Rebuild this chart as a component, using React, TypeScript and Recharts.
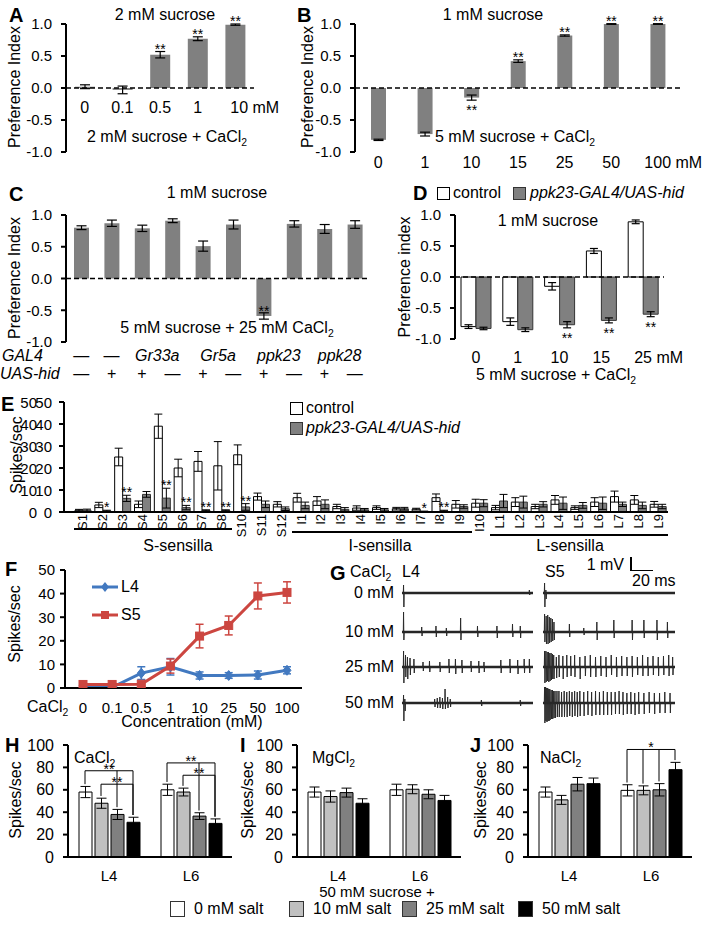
import React from "react";
import { BarChart, Bar, LineChart, Line, XAxis, YAxis, ReferenceLine, ErrorBar, LabelList } from "recharts";

const FONT = '"Liberation Sans", Arial, Helvetica, sans-serif';
const GRAY = "#808080";
const BLUE = "#4279c0";
const RED = "#cc4640";

// A: 2 mM sucrose vs 2 mM sucrose + CaCl2
const aConc = ["0", "0.1", "0.5", "1", "10"];
const aPI = [0.02, -0.03, 0.52, 0.77, 0.99];
const aErr = [0.03, 0.06, 0.05, 0.03, 0.01];
const aSig = ["", "", "**", "**", "**"];

// B: 1 mM sucrose vs 5 mM sucrose + CaCl2
const bConc = ["0", "1", "10", "15", "25", "50", "100"];
const bPI = [-0.81, -0.72, -0.15, 0.42, 0.82, 1.0, 1.0];
const bErr = [0.01, 0.03, 0.04, 0.02, 0.01, 0.005, 0.005];
const bSig = ["", "", "**", "**", "**", "**", "**"];

// C: genotypes
const cGal4 = ["—", "—", "Gr33a", "", "Gr5a", "", "ppk23", "", "ppk28", ""];
const cUas = ["—", "+", "+", "—", "+", "—", "+", "—", "+", "—"];
const cPI = [0.8, 0.87, 0.79, 0.91, 0.51, 0.85, -0.59, 0.86, 0.78, 0.85];
const cErr = [0.03, 0.05, 0.05, 0.03, 0.08, 0.07, 0.05, 0.05, 0.07, 0.06];
const cSig = ["", "", "", "", "", "", "**", "", "", ""];

// D: control vs ppk23-GAL4/UAS-hid
const dConc = ["0", "1", "10", "15", "25"];
const dControl = [-0.8, -0.72, -0.15, 0.42, 0.89];
const dControlErr = [0.03, 0.06, 0.06, 0.04, 0.03];
const dHid = [-0.83, -0.85, -0.77, -0.7, -0.6];
const dHidErr = [0.02, 0.03, 0.05, 0.04, 0.04];
const dSig = ["", "", "**", "**", "**"];

// E: spikes per sensillum
const eSensilla = [
  "S1", "S2", "S3", "S4", "S5", "S6", "S7", "S8", "S10", "S11", "S12",
  "I1", "I2", "I3", "I4", "I5", "I6", "I7", "I8", "I9", "I10",
  "L1", "L2", "L3", "L4", "L5", "L6", "L7", "L8", "L9",
];
const eControl = [0.8, 3.2, 25, 3.5, 39, 20, 23, 21, 26, 7, 3.5, 6.5, 5, 2.5, 1.8, 2, 1.5, 1.3, 6.5, 3.5, 4, 2, 4.5, 2.5, 5.5, 2, 4.5, 7, 5.5, 3.5];
const eControlErr = [0.4, 1.2, 4, 1.5, 5.5, 4, 4.5, 11, 4.5, 1.6, 1.2, 2, 2, 1, 1, 0.8, 0.6, 0.4, 1.7, 1.7, 1.8, 1, 2, 1, 2, 0.8, 2, 2.5, 2, 1.3];
const eHid = [0.8, 0.5, 6.2, 8, 6.3, 2, 0.7, 0.7, 2.3, 3.5, 1.5, 3, 3.5, 1.2, 1, 1, 1.5, 0.2, 0.5, 2.5, 4, 5, 4.5, 3.5, 4, 3, 4, 3.5, 3, 2.5];
const eHidErr = [0.5, 0.3, 1.4, 1.3, 4.5, 1, 0.3, 0.3, 1.5, 1.5, 0.8, 1.5, 2, 0.8, 0.6, 0.6, 0.6, 0.2, 0.3, 0.8, 1.6, 3, 2.7, 1.2, 2.8, 1.3, 2.8, 1, 1.5, 1];
const eSig = ["", "*", "**", "", "**", "**", "**", "**", "**", "", "", "", "", "", "", "", "", "*", "**", "", "", "", "", "", "", "", "", "", "", ""];

// F: dose response
const fConc = ["0", "0.1", "0.5", "1", "10", "25", "50", "100"];
const fL4 = [1.2, 0.3, 6.3, 9.0, 5.3, 5.3, 5.5, 7.5];
const fL4Err = [0.4, 0.3, 2.7, 3.5, 1.5, 1.2, 1.7, 1.5];
const fS5 = [1.5, 1.5, 1.6, 9.3, 22, 26.5, 39, 40.5];
const fS5Err = [0.5, 0.5, 0.6, 3, 5, 4, 5.5, 4.5];

// G: spike traces, [position %, up, down]
type Spike = [number, number, number];
const g0L4: Spike[] = [[0, 8, 14], [97, 3, 2]];
const g0S5: Spike[] = [[0, 10, 14], [1, 3, 6]];
const g10L4: Spike[] = [[0, 20, 8], [14, 5, 4], [25, 6, 5], [33, 4, 4], [44, 14, 8], [57, 6, 5], [72, 6, 6], [84, 8, 5], [90, 6, 6]];
const g10S5: Spike[] = [[0, 18, 10], [1.2, 16, 12], [2.4, 17, 12], [3.6, 15, 11], [4.8, 14, 10], [6, 13, 9], [7.2, 10, 8], [19, 8, 5], [30, 4, 3], [40, 10, 8], [53, 12, 6], [67, 12, 8], [76, 12, 6], [86, 12, 8], [94, 10, 6]];
const g25L4: Spike[] = [[0, 16, 16], [1.5, 12, 10], [3, 10, 12], [5, 9, 8], [8, 8, 6], [15, 5, 4], [20, 6, 5], [28, 5, 5], [35, 8, 6], [40, 8, 7], [45, 7, 6], [52, 6, 5], [58, 6, 6], [62, 5, 5], [75, 7, 6], [82, 8, 6], [88, 7, 7], [93, 8, 6], [97, 8, 6]];
const g25S5: Spike[] = [[0, 16, 16], [1, 16, 15], [2, 15, 14], [3, 15, 15], [4, 14, 14], [5, 14, 13], [6, 13, 12], [7, 12, 12], [9, 10, 11], [11, 12, 10], [14, 11, 12], [17, 12, 10], [20, 11, 9], [23, 12, 10], [27, 10, 12], [31, 11, 9], [35, 12, 10], [39, 10, 10], [43, 11, 9], [47, 10, 10], [51, 12, 8], [55, 10, 10], [59, 11, 9], [63, 10, 9], [67, 11, 10], [71, 10, 8], [75, 12, 9], [79, 10, 9], [83, 11, 8], [87, 10, 9], [91, 11, 8], [95, 12, 9], [98, 10, 8]];
const g50L4: Spike[] = [[0, 8, 18], [1, 4, 8], [24, 4, 4], [26, 5, 5], [28, 6, 5], [30, 5, 6], [32, 14, 6], [34, 6, 5], [36, 4, 4], [60, 3, 3], [90, 3, 3]];
const g50S5: Spike[] = [[0, 16, 20], [0.8, 16, 18], [1.6, 15, 19], [2.4, 15, 18], [3.2, 14, 18], [4, 14, 17], [5, 13, 16], [6, 13, 16], [7, 12, 15], [8, 12, 15], [9.5, 12, 14], [11, 12, 14], [13, 11, 14], [15, 12, 14], [17, 11, 14], [19, 12, 13], [21, 11, 14], [23, 12, 13], [25, 11, 14], [27, 12, 13], [30, 11, 13], [33, 12, 12], [36, 11, 13], [39, 12, 12], [42, 11, 12], [45, 12, 12], [48, 11, 12], [51, 11, 12], [54, 11, 11], [57, 12, 11], [60, 11, 12], [63, 10, 11], [66, 11, 11], [69, 10, 12], [72, 11, 11], [76, 10, 11], [80, 11, 10], [84, 10, 11], [88, 10, 10], [92, 11, 10], [96, 10, 10]];
const gRows = ["0 mM", "10 mM", "25 mM", "50 mM"];

// H, I, J: salts
const saltLabels = ["0 mM salt", "10 mM salt", "25 mM salt", "50 mM salt"];
const caL4 = [58, 48, 38, 31];
const caL4Err = [5, 4.5, 4.5, 4.5];
const caL6 = [60, 58, 36.5, 30];
const caL6Err = [5, 3.5, 3, 4];
const mgL4 = [58, 54, 57.5, 48];
const mgL4Err = [4.5, 5, 4, 4];
const mgL6 = [60, 60.5, 56, 50.5];
const mgL6Err = [5, 4, 4, 4.5];
const naL4 = [58, 51, 65, 65.5];
const naL4Err = [4.5, 4, 6, 5];
const naL6 = [59.5, 59.5, 60, 78];
const naL6Err = [5, 4, 5.5, 6.5];

type Bracket = { g: number; from: number; to: number; level: number; drops: number[]; label: string };
const caBrackets: Bracket[] = [
  { g: 0, from: 0, to: 3, level: 77, drops: [0, 2, 3], label: "**" },
  { g: 0, from: 1, to: 3, level: 65, drops: [1, 3], label: "**" },
  { g: 1, from: 0, to: 3, level: 84, drops: [0, 2, 3], label: "**" },
  { g: 1, from: 1, to: 3, level: 73, drops: [1, 3], label: "**" },
];
const naBrackets: Bracket[] = [{ g: 1, from: 0, to: 3, level: 96, drops: [0, 1, 2, 3], label: "*" }];

const SALT_FILL = ["#ffffff", "#c0c0c0", "#808080", "#000000"];
const SALT_BAR = 13;
const SALT_GAP = 3;

// rows
const aRows = aConc.map((c, i) => ({ c, v: aPI[i], e: aErr[i], sig: aSig[i] }));
const bRows = bConc.map((c, i) => ({ c, v: bPI[i], e: bErr[i], sig: bSig[i] }));
const cRows = cPI.map((v, i) => ({ k: i, v, e: cErr[i], sig: cSig[i] }));
const dRows = dConc.map((c, i) => ({ c, ctl: dControl[i], ctlE: dControlErr[i], hid: dHid[i], hidE: dHidErr[i], sig: dSig[i] }));
const eRows = eSensilla.map((s, i) => ({ s, c: eControl[i], ce: eControlErr[i], h: eHid[i], he: eHidErr[i], sig: eSig[i] }));
const fRows = fConc.map((c, i) => ({ c, l4: fL4[i], l4e: fL4Err[i], s5: fS5[i], s5e: fS5Err[i] }));
const saltRows = (l4: number[], l4e: number[], l6: number[], l6e: number[]) =>
  [["L4", l4, l4e], ["L6", l6, l6e]].map(([s, v, e]: any) => ({
    s, v0: v[0], v1: v[1], v2: v[2], v3: v[3], e0: e[0], e1: e[1], e2: e[2], e3: e[3],
  }));

function T({ x, y, size = 16, anchor = "start", italic, bold, children }: any) {
  const tx = anchor === "start" ? "0" : anchor === "middle" ? "-50%" : "-100%";
  return (
    <div style={{ position: "absolute", left: x, top: y, transform: `translate(${tx}, -50%)`, fontSize: size, lineHeight: 1, whiteSpace: "nowrap", fontStyle: italic ? "italic" : "normal", fontWeight: bold ? 700 : 400 }}>
      {children}
    </div>
  );
}

function VT({ x, y, size = 16, children }: any) {
  return (
    <div style={{ position: "absolute", left: x, top: y, transform: "translate(-50%, -50%) rotate(-90deg)", fontSize: size, lineHeight: 1, whiteSpace: "nowrap" }}>
      {children}
    </div>
  );
}

const Sub = ({ children }: any) => <sub style={{ fontSize: "0.65em", lineHeight: 0 }}>{children}</sub>;

function catTick(dy: number, size: number, unitIdx = -1, shift = 0) {
  return (p: any) => {
    const label = String(p.payload.value);
    const y = p.y + dy;
    if (p.index !== unitIdx)
      return <text x={p.x} y={y} textAnchor="middle" dominantBaseline="central" fontSize={size} fill="#000">{label}</text>;
    const half = label.length * size * 0.278;
    return <text x={p.x - half + shift} y={y} textAnchor="start" dominantBaseline="central" fontSize={size} fill="#000">{label} mM</text>;
  };
}

function sigContent(rows: any[], valKey: string, errKey: string, ppu: number, mode: "out" | "in", size = 14) {
  return (p: any) => {
    const s = p.value;
    if (!s) return null;
    const vb = p.viewBox && p.viewBox.width !== undefined ? p.viewBox : p;
    const r = rows[p.index];
    const v = r[valKey];
    const e = r[errKey];
    const yA = vb.y;
    const yB = vb.y + vb.height;
    const cx = vb.x + vb.width / 2;
    let y;
    if (mode === "in") y = Math.max(yA, yB);
    else if (v >= 0) y = Math.min(yA, yB) - e * ppu + 2;
    else y = Math.max(yA, yB) + e * ppu + 15;
    return <text key={`sig-${p.index}`} x={cx} y={y} textAnchor="middle" fontSize={size} fill="#000">{s}</text>;
  };
}

const axisLine = { stroke: "#000", strokeWidth: 2 };
const piY = {
  domain: [-1, 1] as [number, number],
  ticks: [-1, -0.5, 0, 0.5, 1],
  tickFormatter: (v: number) => v.toFixed(1),
  width: 50,
  allowDataOverflow: true,
  interval: 0 as const,
  axisLine,
  tickLine: axisLine,
  tickSize: 5,
  tickMargin: 9,
  tick: { fontSize: 15, fill: "#000" },
};

function Trace({ x, y, w, spikes }: { x: number; y: number; w: number; spikes: Spike[] }) {
  const rows = [{ t: -1, v: 0 }];
  spikes.forEach(([p, up, down]) => {
    rows.push({ t: p, v: 0 }, { t: p + 0.2, v: up }, { t: p + 0.45, v: -down }, { t: p + 0.7, v: 0 });
  });
  rows.push({ t: 100, v: 0 });
  return (
    <div style={{ position: "absolute", left: x, top: y - 22 }}>
      <LineChart width={w} height={44} data={rows} margin={{ top: 0, right: 0, bottom: 0, left: 0 }}>
        <XAxis type="number" dataKey="t" domain={[-1, 100]} hide />
        <YAxis type="number" domain={[-22, 22]} hide allowDataOverflow />
        <ReferenceLine y={0} stroke="#222" strokeWidth={2.6} />
        <Line type="linear" dataKey="v" stroke="#2a2a2a" strokeWidth={1} dot={false} isAnimationActive={false} />
      </LineChart>
    </div>
  );
}

function SaltPanel({ plotLeft, rows, brackets }: { plotLeft: number; rows: any[]; brackets: Bracket[] }) {
  const W = 164;
  const H = 112;
  const yw = 46;
  const band = W / rows.length;
  const bx = (g: number, b: number) => yw + band * (g + 0.5) + (b - 1.5) * (SALT_BAR + SALT_GAP);
  const by = (v: number) => 8 + H * (1 - v / 100);
  return (
    <div style={{ position: "absolute", left: plotLeft - yw, top: 737 }}>
      <BarChart width={yw + W + 4} height={8 + H + 30} data={rows} margin={{ top: 8, right: 4, bottom: 0, left: 0 }} barGap={SALT_GAP}>
        <XAxis dataKey="s" interval={0} axisLine={axisLine} tickLine={false} tickSize={0} tickMargin={2} height={30} tick={catTick(16, 15)} />
        <YAxis domain={[0, 100]} ticks={[0, 20, 40, 60, 80, 100]} width={yw} allowDataOverflow interval={0} axisLine={axisLine} tickLine={axisLine} tickSize={5} tickMargin={9} tick={{ fontSize: 16, fill: "#000" }} />
        {[0, 1, 2, 3].map((k) => (
          <Bar key={k} dataKey={`v${k}`} fill={SALT_FILL[k]} stroke="#000" strokeWidth={1} barSize={SALT_BAR} isAnimationActive={false}>
            <ErrorBar dataKey={`e${k}`} width={5} stroke="#000" strokeWidth={1} />
          </Bar>
        ))}
      </BarChart>
      <svg style={{ position: "absolute", left: 0, top: 0, overflow: "visible" }} width={yw + W + 4} height={8 + H + 30}>
        {brackets.map((br, i) => (
          <g key={i}>
            <line x1={bx(br.g, br.from)} x2={bx(br.g, br.to)} y1={by(br.level)} y2={by(br.level)} stroke="#000" strokeWidth={1} />
            {br.drops.map((b) => (
              <line key={b} x1={bx(br.g, b)} x2={bx(br.g, b)} y1={by(br.level)} y2={by(rows[br.g][`v${b}`] + rows[br.g][`e${b}`] + 2)} stroke="#000" strokeWidth={1} />
            ))}
            <text x={(bx(br.g, br.from) + bx(br.g, br.to)) / 2} y={by(br.level) + 3} textAnchor="middle" fontSize={14}>{br.label}</text>
          </g>
        ))}
      </svg>
    </div>
  );
}

const eYTick = (p: any) => (
  <g>
    <text x={p.x - 15} y={p.y} textAnchor="end" dominantBaseline="central" fontSize={15} fill="#000">{p.payload.value}</text>
    <text x={p.x} y={p.y} textAnchor="end" dominantBaseline="central" fontSize={15} fill="#000">{p.payload.value}</text>
  </g>
);

const eTick = (p: any) => (
  <text x={p.x} y={p.y} transform={`rotate(-90 ${p.x} ${p.y})`} textAnchor="end" dominantBaseline="central" fontSize={13} fill="#000">
    {p.payload.value}
  </text>
);

const cBand = 304 / cPI.length;
const cTick = (p: any) => {
  const i = p.index;
  const g = cGal4[i];
  const pair = g && g !== "—" && cGal4[i + 1] === "";
  return (
    <g>
      {g && (
        <text x={p.x + (pair ? cBand / 2 : 0)} y={p.y + 11} textAnchor="middle" dominantBaseline="central" fontSize={16} fontStyle={g === "—" ? "normal" : "italic"} fill="#000">{g}</text>
      )}
      <text x={p.x} y={p.y + 29} textAnchor="middle" dominantBaseline="central" fontSize={16} fill="#000">{cUas[i]}</text>
    </g>
  );
};

const diamond = (p: any) => (
  <path key={`d${p.index}`} d={`M${p.cx},${p.cy - 5}L${p.cx + 4},${p.cy}L${p.cx},${p.cy + 5}L${p.cx - 4},${p.cy}Z`} fill={BLUE} stroke={BLUE} />
);
const square = (p: any) => <rect key={`s${p.index}`} x={p.cx - 4} y={p.cy - 4} width={8} height={8} fill={RED} stroke={RED} />;

export default function App() {
  return (
    <div style={{ position: "absolute", left: 0, top: 0, width: 704, height: 925, background: "#fff", fontFamily: FONT, color: "#000", overflow: "hidden" }}>
      {/* A */}
      <T x={9} y={15} size={20} bold>A</T>
      <T x={165} y={15} anchor="middle">2 mM sucrose</T>
      <T x={167} y={137} anchor="middle">2 mM sucrose + CaCl<Sub>2</Sub></T>
      <VT x={15} y={87}>Preference Index</VT>
      <div style={{ position: "absolute", left: 16, top: 8 }}>
        <BarChart width={274} height={154} data={aRows} margin={{ top: 16, right: 36, bottom: 0, left: 0 }}>
          <XAxis dataKey="c" interval={0} axisLine={false} tickLine={false} tickSize={0} tickMargin={2} height={10} tick={catTick(-47, 16, 4, 4)} />
          <YAxis {...piY} />
          <Bar dataKey="v" fill={GRAY} barSize={20} isAnimationActive={false}>
            <ErrorBar dataKey="e" width={5} stroke="#000" strokeWidth={1.2} />
            <LabelList dataKey="sig" content={sigContent(aRows, "v", "e", 64, "out")} />
          </Bar>
          <ReferenceLine y={0} stroke="#000" strokeDasharray="5 3" strokeWidth={1.5} />
        </BarChart>
      </div>

      {/* B */}
      <T x={297} y={15} size={20} bold>B</T>
      <T x={493} y={15} anchor="middle">1 mM sucrose</T>
      <T x={515} y={137} anchor="middle">5 mM sucrose + CaCl<Sub>2</Sub></T>
      <VT x={308} y={87}>Preference Index</VT>
      <div style={{ position: "absolute", left: 305, top: 8 }}>
        <BarChart width={398} height={164} data={bRows} margin={{ top: 16, right: 22, bottom: 0, left: 0 }}>
          <XAxis dataKey="c" interval={0} axisLine={false} tickLine={false} tickSize={0} tickMargin={2} height={20} tick={catTick(8, 16, 6, 0)} />
          <YAxis {...piY} />
          <Bar dataKey="v" fill={GRAY} barSize={15} isAnimationActive={false}>
            <ErrorBar dataKey="e" width={5} stroke="#000" strokeWidth={1.2} />
            <LabelList dataKey="sig" content={sigContent(bRows, "v", "e", 64, "out")} />
          </Bar>
          <ReferenceLine y={0} stroke="#000" strokeDasharray="5 3" strokeWidth={1.5} />
        </BarChart>
      </div>

      {/* C */}
      <T x={9} y={194} size={20} bold>C</T>
      <T x={217} y={193} anchor="middle">1 mM sucrose</T>
      <T x={227} y={328} anchor="middle">5 mM sucrose + 25 mM CaCl<Sub>2</Sub></T>
      <VT x={15} y={278}>Preference Index</VT>
      <T x={2} y={356} italic>GAL4</T>
      <T x={0} y={374} italic>UAS-hid</T>
      <div style={{ position: "absolute", left: 16, top: 207 }}>
        <BarChart width={360} height={177} data={cRows} margin={{ top: 8, right: 6, bottom: 0, left: 0 }}>
          <XAxis dataKey="k" interval={0} axisLine={false} tickLine={false} tickSize={0} tickMargin={2} height={42} tick={cTick} />
          <YAxis {...piY} />
          <Bar dataKey="v" fill={GRAY} barSize={15} isAnimationActive={false}>
            <ErrorBar dataKey="e" width={5} stroke="#000" strokeWidth={1.2} />
            <LabelList dataKey="sig" content={sigContent(cRows, "v", "e", 63.5, "in")} />
          </Bar>
          <ReferenceLine y={0} stroke="#000" strokeDasharray="5 3" strokeWidth={1.5} />
        </BarChart>
      </div>

      {/* D */}
      <T x={413} y={193} size={20} bold>D</T>
      <div style={{ position: "absolute", left: 437, top: 187, width: 11, height: 11, border: "1px solid #000", background: "#fff" }} />
      <T x={453} y={193}>control</T>
      <div style={{ position: "absolute", left: 513, top: 187, width: 11, height: 11, border: "1px solid #333", background: GRAY }} />
      <T x={530} y={193} italic>ppk23-GAL4/UAS-hid</T>
      <T x={548} y={221} anchor="middle">1 mM sucrose</T>
      <T x={556} y={375} anchor="middle">5 mM sucrose + CaCl<Sub>2</Sub></T>
      <VT x={405} y={277}>Preference index</VT>
      <div style={{ position: "absolute", left: 405, top: 207 }}>
        <BarChart width={295} height={158} data={dRows} margin={{ top: 8, right: 36, bottom: 0, left: 0 }} barGap={0}>
          <XAxis dataKey="c" interval={0} axisLine={false} tickLine={false} tickSize={0} tickMargin={2} height={26} tick={catTick(16, 16, 4, 0)} />
          <YAxis {...piY} />
          <Bar dataKey="ctl" fill="#fff" stroke="#000" strokeWidth={1} barSize={15} isAnimationActive={false}>
            <ErrorBar dataKey="ctlE" width={4} stroke="#000" strokeWidth={1.2} />
          </Bar>
          <Bar dataKey="hid" fill={GRAY} stroke="#333" strokeWidth={1} barSize={15} isAnimationActive={false}>
            <ErrorBar dataKey="hidE" width={4} stroke="#000" strokeWidth={1.2} />
            <LabelList dataKey="sig" content={sigContent(dRows, "hid", "hidE", 62, "out")} />
          </Bar>
          <ReferenceLine y={0} stroke="#000" strokeDasharray="5 3" strokeWidth={1.5} />
        </BarChart>
      </div>

      {/* E */}
      <T x={1} y={404} size={20} bold>E</T>
      <VT x={17} y={455}>Spikes/sec</VT>
      <div style={{ position: "absolute", left: 290, top: 402, width: 11, height: 11, border: "1px solid #000", background: "#fff" }} />
      <T x={306} y={408}>control</T>
      <div style={{ position: "absolute", left: 290, top: 422, width: 11, height: 11, border: "1px solid #333", background: GRAY }} />
      <T x={306} y={428} italic>ppk23-GAL4/UAS-hid</T>
      <div style={{ position: "absolute", left: 6, top: 394 }}>
        <BarChart width={666} height={158} data={eRows} margin={{ top: 8, right: 4, bottom: 0, left: 0 }} barGap={0}>
          <XAxis dataKey="s" interval={0} padding={{ left: 9, right: 0 }} axisLine={axisLine} tickLine={false} tickSize={0} tickMargin={2} height={40} tick={eTick} />
          <YAxis domain={[0, 50]} ticks={[0, 10, 20, 30, 40, 50]} width={58} allowDataOverflow interval={0} axisLine={axisLine} tickLine={axisLine} tickSize={5} tickMargin={7} tick={eYTick} />
          <Bar dataKey="c" fill="#fff" stroke="#000" strokeWidth={1} barSize={8} isAnimationActive={false}>
            <ErrorBar dataKey="ce" width={4} stroke="#000" strokeWidth={1} />
          </Bar>
          <Bar dataKey="h" fill={GRAY} stroke="#333" strokeWidth={1} barSize={8} isAnimationActive={false}>
            <ErrorBar dataKey="he" width={4} stroke="#000" strokeWidth={1} />
            <LabelList dataKey="sig" content={sigContent(eRows, "h", "he", 2.2, "out")} />
          </Bar>
        </BarChart>
      </div>
      <div style={{ position: "absolute", left: 74, top: 528, width: 158, height: 1.5, background: "#000" }} />
      <div style={{ position: "absolute", left: 292, top: 531, width: 180, height: 1.5, background: "#000" }} />
      <div style={{ position: "absolute", left: 490, top: 534, width: 178, height: 1.5, background: "#000" }} />
      <T x={178} y={546} anchor="middle">S-sensilla</T>
      <T x={380} y={546} anchor="middle">I-sensilla</T>
      <T x={570} y={546} anchor="middle">L-sensilla</T>

      {/* F */}
      <T x={5} y={569} size={20} bold>F</T>
      <VT x={15} y={624}>Spikes/sec</VT>
      <T x={27} y={707}>CaCl<Sub>2</Sub></T>
      <T x={192} y={722} anchor="middle">Concentration (mM)</T>
      <div style={{ position: "absolute", left: 15, top: 562 }}>
        <LineChart width={295} height={152} data={fRows} margin={{ top: 8, right: 8, bottom: 0, left: 0 }}>
          <XAxis dataKey="c" interval={0} padding={{ left: 18, right: 15 }} axisLine={axisLine} tickLine={false} tickSize={0} tickMargin={2} height={26} tick={catTick(17, 15)} />
          <YAxis domain={[0, 50]} ticks={[0, 10, 20, 30, 40, 50]} width={50} allowDataOverflow interval={0} axisLine={axisLine} tickLine={axisLine} tickSize={5} tickMargin={5} tick={{ fontSize: 15, fill: "#000" }} />
          <Line type="linear" dataKey="l4" stroke={BLUE} strokeWidth={3} dot={diamond} isAnimationActive={false}>
            <ErrorBar dataKey="l4e" width={4} stroke={BLUE} strokeWidth={1.5} />
          </Line>
          <Line type="linear" dataKey="s5" stroke={RED} strokeWidth={3} dot={square} isAnimationActive={false}>
            <ErrorBar dataKey="s5e" width={4} stroke={RED} strokeWidth={1.5} />
          </Line>
        </LineChart>
      </div>
      <svg style={{ position: "absolute", left: 88, top: 578 }} width={34} height={46}>
        <line x1={4} y1={9} x2={30} y2={9} stroke={BLUE} strokeWidth={3} />
        <path d="M17,4L21,9L17,14L13,9Z" fill={BLUE} />
        <line x1={4} y1={37} x2={30} y2={37} stroke={RED} strokeWidth={3} />
        <rect x={13} y={33} width={8} height={8} fill={RED} />
      </svg>
      <T x={121} y={587}>L4</T>
      <T x={121} y={615}>S5</T>

      {/* G */}
      <T x={330} y={573} size={20} bold>G</T>
      <T x={350} y={572}>CaCl<Sub>2</Sub></T>
      <T x={402} y={572}>L4</T>
      <T x={545} y={572}>S5</T>
      <T x={624} y={565} anchor="end">1 mV</T>
      <div style={{ position: "absolute", left: 630, top: 557, width: 1.5, height: 14, background: "#000" }} />
      <div style={{ position: "absolute", left: 630, top: 569.5, width: 23, height: 1.5, background: "#000" }} />
      <T x={632} y={581}>20 ms</T>
      {gRows.map((r, i) => (
        <T key={r} x={394} y={[593, 632, 667, 703][i]} anchor="end">{r}</T>
      ))}
      <Trace x={402} y={593} w={131} spikes={g0L4} />
      <Trace x={543} y={593} w={132} spikes={g0S5} />
      <Trace x={402} y={632} w={131} spikes={g10L4} />
      <Trace x={543} y={632} w={132} spikes={g10S5} />
      <Trace x={402} y={667} w={131} spikes={g25L4} />
      <Trace x={543} y={667} w={132} spikes={g25S5} />
      <Trace x={402} y={703} w={131} spikes={g50L4} />
      <Trace x={543} y={703} w={132} spikes={g50S5} />

      {/* H, I, J */}
      <T x={5} y={745} size={20} bold>H</T>
      <T x={74} y={758}>CaCl<Sub>2</Sub></T>
      <VT x={16} y={800}>Spikes/sec</VT>
      <SaltPanel plotLeft={68} rows={saltRows(caL4, caL4Err, caL6, caL6Err)} brackets={caBrackets} />

      <T x={240} y={745} size={20} bold>I</T>
      <T x={312} y={758}>MgCl<Sub>2</Sub></T>
      <VT x={248} y={800}>Spikes/sec</VT>
      <SaltPanel plotLeft={297} rows={saltRows(mgL4, mgL4Err, mgL6, mgL6Err)} brackets={[]} />

      <T x={470} y={745} size={20} bold>J</T>
      <T x={540} y={758}>NaCl<Sub>2</Sub></T>
      <VT x={481} y={800}>Spikes/sec</VT>
      <SaltPanel plotLeft={528} rows={saltRows(naL4, naL4Err, naL6, naL6Err)} brackets={naBrackets} />

      <T x={377} y={891} size={15} anchor="middle">50 mM sucrose +</T>
      {saltLabels.map((s, i) => {
        const left = [170, 289, 402, 518][i];
        return (
          <React.Fragment key={s}>
            <div style={{ position: "absolute", left, top: 901, width: 13, height: 14, border: "1px solid #333", background: SALT_FILL[i] }} />
            <T x={left + 24} y={909}>{s}</T>
          </React.Fragment>
        );
      })}
    </div>
  );
}
